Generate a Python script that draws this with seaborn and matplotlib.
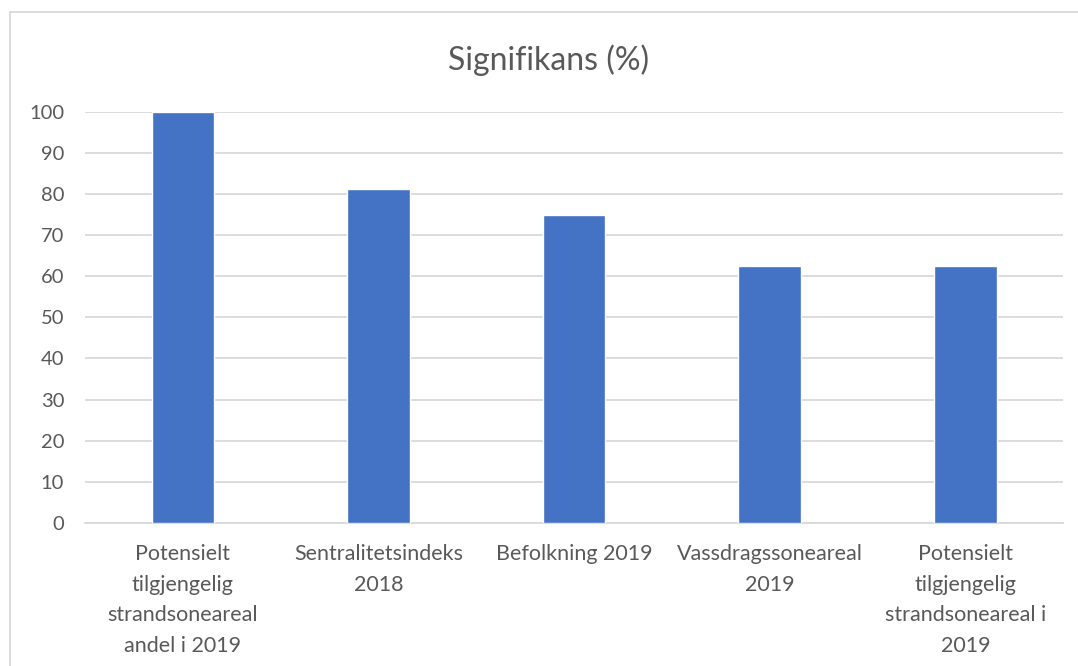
import matplotlib
matplotlib.use("Agg")
import matplotlib.pyplot as plt
import seaborn as sns
import pandas as pd
from matplotlib.patches import Rectangle

categories = [
    "Potensielt\ntilgjengelig\nstrandsoneareal\nandel i 2019",
    "Sentralitetsindeks\n2018",
    "Befolkning 2019",
    "Vassdragssoneareal\n2019",
    "Potensielt\ntilgjengelig\nstrandsoneareal i\n2019",
]
values = [100, 81.25, 75, 62.5, 62.5]
yticks = [0, 10, 20, 30, 40, 50, 60, 70, 80, 90, 100]
title = "Signifikans (%)"

sns.set_style("white")
plt.rcParams["font.family"] = ["Lato", "DejaVu Sans"]

df = pd.DataFrame({"cat": categories, "val": values})

fig = plt.figure(figsize=(10.78, 6.66), dpi=100)
ax = fig.add_axes([0.0789, 0.215, 0.9073, 0.617])
sns.barplot(data=df, x="cat", y="val", color="#4472C4", width=0.32,
            saturation=1, ax=ax, zorder=3)

ax.set_ylim(0, 100)
ax.set_yticks(yticks)
ax.set_xlim(-0.5, len(categories) - 0.5)
ax.yaxis.grid(True, color="#d9d9d9", linewidth=1.3, zorder=0)
ax.set_axisbelow(True)
for s in ["top", "right", "left"]:
    ax.spines[s].set_visible(False)
ax.spines["bottom"].set_color("#d9d9d9")
ax.spines["bottom"].set_linewidth(1.3)
ax.tick_params(axis="both", length=0, colors="#595959")
ax.tick_params(axis="y", pad=15, labelsize=14.5)
ax.tick_params(axis="x", pad=15, labelsize=15.5)
for lbl in ax.get_xticklabels():
    lbl.set_linespacing(1.68)
ax.set_xlabel("")
ax.set_ylabel("")

fig.text(0.509, 0.91, title, ha="center", va="center", fontsize=23, color="#595959")

fig.patches.append(Rectangle((0.009, -0.05), 1.05, 1.032, transform=fig.transFigure,
                             fill=False, edgecolor="#d9d9d9", linewidth=1.3))

fig.savefig("out.png", dpi=100, facecolor="white")
